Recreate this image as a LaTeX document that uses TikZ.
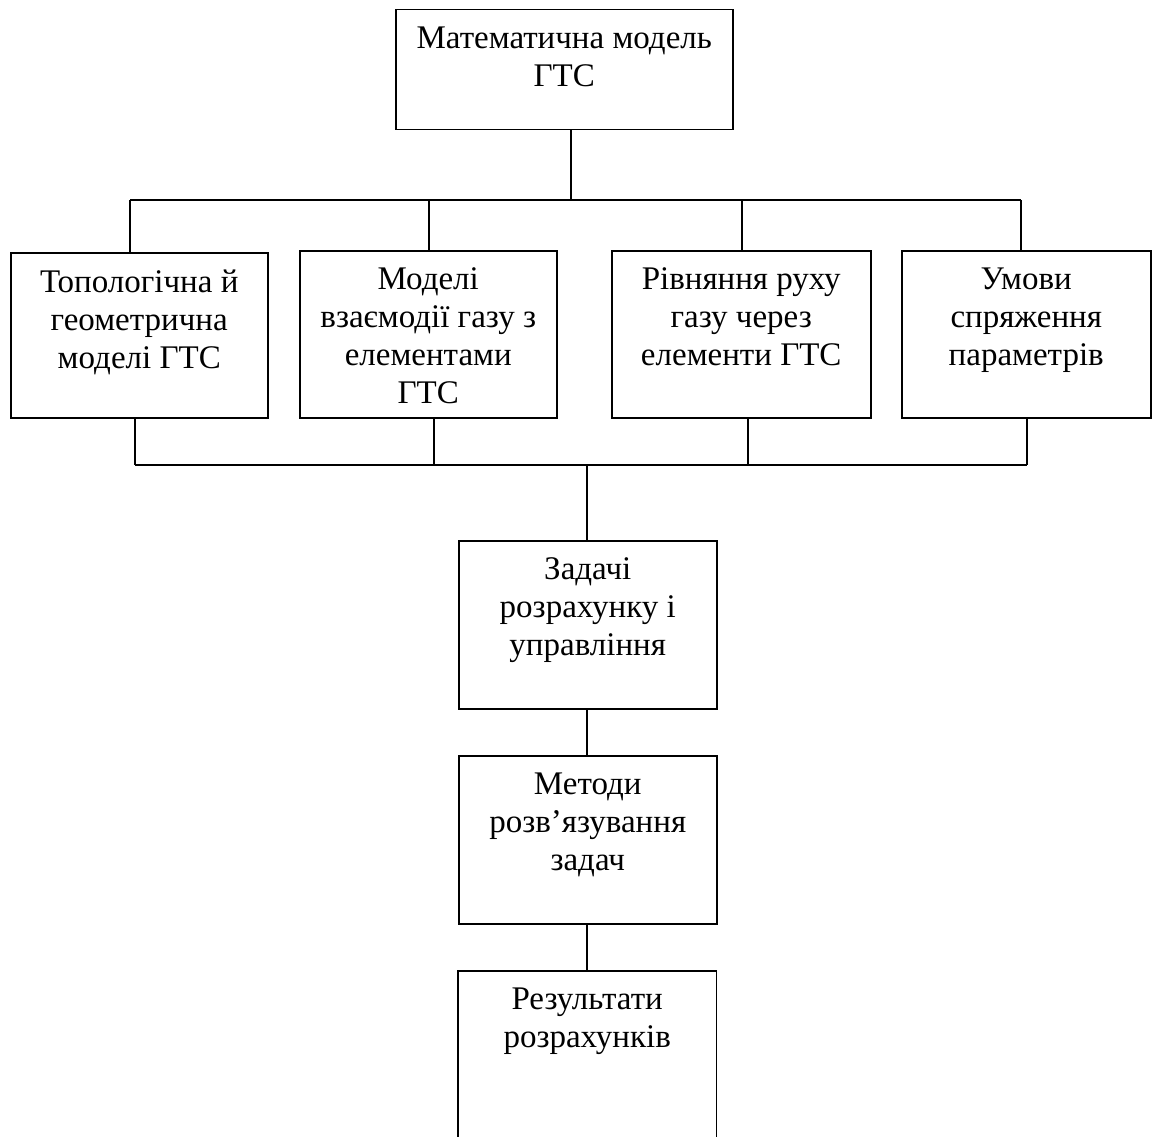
\documentclass[tikz,border=0pt]{standalone}
\usepackage{fontspec}
\setmainfont{Liberation Serif}
\newcommand{\bxt}[3]{\parbox[c][#2][t]{#1}{\centering\fontsize{33}{38}\selectfont\vspace*{17pt}#3\par}}
\begin{document}
\begin{tikzpicture}[x=1pt,y=-1pt,
  blk/.style={draw, inner sep=0pt, line width=1.5pt, anchor=north west},
  txt/.style={inner sep=0pt, anchor=north west},
  conn/.style={line width=1.5pt}]
\useasboundingbox (0,0) rectangle (1157,1137);
% top
\node[blk] (top) at (395,9) {\bxt{337pt}{120pt}{Математична модель\\ГТС}};
% row
\node[blk] (b1) at (10,252) {\bxt{257pt}{165pt}{Топологічна й\\геометрична\\моделі ГТС}};
\node[blk] (b2) at (299,250) {\bxt{257pt}{167pt}{Моделі\\взаємодії газу з\\елементами\\ГТС}};
\node[blk] (b3) at (611,250) {\bxt{259pt}{167pt}{Рівняння руху\\газу через\\елементи ГТС}};
\node[blk] (b4) at (901,250) {\bxt{249pt}{167pt}{Умови\\спряження\\параметрів}};
% column
\node[blk] (zad) at (458,540) {\bxt{258pt}{168pt}{Задачі\\розрахунку і\\управління}};
\node[blk] (met) at (458,755) {\bxt{258pt}{168pt}{Методи\\розв’язування\\задач}};
\node[txt] (res) at (458,971) {\bxt{258pt}{170pt}{Результати\\розрахунків}};
\draw[conn] (res.south west) |- (res.north east) -- (res.south east);
% coordinates of the buses
\coordinate (ub) at (571,200);
\coordinate (lb) at (587,465);
% upper bus
\draw[conn] (top.south -| ub) -- (ub);
\draw[conn] (130,200) coordinate (u1) -- (1021,200) coordinate (u4);
\draw[conn] (u1) -- (b1.north -| u1);
\coordinate (u2) at (429,200);
\coordinate (u3) at (742,200);
\draw[conn] (u2) -- (b2.north -| u2);
\draw[conn] (u3) -- (b3.north -| u3);
\draw[conn] (u4) -- (b4.north -| u4);
% lower bus
\coordinate (l1) at (135,465);
\coordinate (l2) at (434,465);
\coordinate (l3) at (748,465);
\coordinate (l4) at (1027,465);
\draw[conn] (l1) -- (l4);
\draw[conn] (b1.south -| l1) -- (l1);
\draw[conn] (b2.south -| l2) -- (l2);
\draw[conn] (b3.south -| l3) -- (l3);
\draw[conn] (b4.south -| l4) -- (l4);
\draw[conn] (lb) -- (zad.north -| lb);
\draw[conn] (zad.south -| lb) -- (met.north -| lb);
\draw[conn] (met.south -| lb) -- (res.north -| lb);
\end{tikzpicture}
\end{document}
